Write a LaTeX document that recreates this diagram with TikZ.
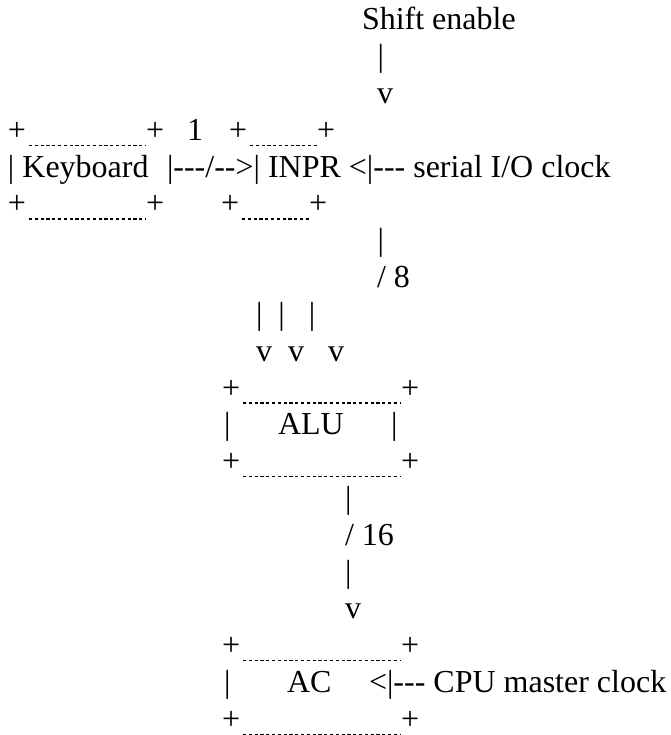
\documentclass[tikz,border=0pt]{standalone}
\usepackage{fontspec}
\setmainfont{Liberation Serif}[Ligatures=TeXOff]
\begin{document}
\begin{tikzpicture}[x=1pt,y=1pt,
  txt/.style={anchor=base west,inner sep=0pt,outer sep=0pt,font=\fontsize{32}{37}\selectfont},
  dotline/.style={line width=1.3pt,dash pattern=on 3.2pt off 2.6pt}]
\useasboundingbox (0,0) rectangle (670,-735);
% line 0-2
\node[txt] (shift) at (362,-30) {Shift enable};
\node[txt] (bar1) at (377.5,-66.8) {|};
\node[txt] (v1) at (377,-103.6) {v};
% line 3
\node[txt] (kbA) at (8,-140.4) {+};
\node[txt] (kbB) at (146,-140.4) {+};
\node[txt] (one) at (187,-140.4) {1};
\node[txt] (inA) at (229,-140.4) {+};
\node[txt] (inB) at (317,-140.4) {+};
\draw[dotline] ([xshift=3pt,yshift=-5pt]kbA.base east) -- ([yshift=-5pt]kbB.base west);
\draw[dotline] ([xshift=3pt,yshift=-5pt]inA.base east) -- ([yshift=-5pt]inB.base west);
% line 4
\node[txt] (kb) at (8,-177.2) {|~Keyboard};
\node[txt] (inpr) at (167,-177.2) {|---/-->|~INPR~<|---~serial~I/O~clock};
% line 5
\node[txt] (kbC) at (8,-214) {+};
\node[txt] (kbD) at (146,-214) {+};
\node[txt] (inC) at (221,-214) {+};
\node[txt] (inD) at (309,-214) {+};
\draw[dotline] ([xshift=3pt,yshift=-5pt]kbC.base east) -- ([yshift=-5pt]kbD.base west);
\draw[dotline] ([xshift=3pt,yshift=-5pt]inC.base east) -- ([yshift=-5pt]inD.base west);
% line 6-9
\node[txt] (bar2) at (377.5,-250.8) {|};
\node[txt] (w8) at (377,-287.6) {/~8};
\node[txt] (bars3) at (256,-324.4) {|~~|~~~|};
\node[txt] (vs3) at (256,-361.2) {v~~v~~~v};
% ALU box
\node[txt] (aluA) at (222,-398) {+};
\node[txt] (aluB) at (401,-398) {+};
\draw[dotline] ([xshift=3pt,yshift=-5pt]aluA.base east) -- ([yshift=-5pt]aluB.base west);
\node[txt] (aluL) at (224,-434.8) {|};
\node[txt] (alu) at (278,-434.8) {ALU};
\node[txt] (aluR) at (391,-434.8) {|};
\node[txt] (aluC) at (222,-471.6) {+};
\node[txt] (aluD) at (401,-471.6) {+};
\draw[dotline] ([xshift=3pt,yshift=-5pt]aluC.base east) -- ([yshift=-5pt]aluD.base west);
% line 13-16
\node[txt] (bar4) at (345,-508.4) {|};
\node[txt] (w16) at (345,-545.2) {/~16};
\node[txt] (bar5) at (345,-582) {|};
\node[txt] (v4) at (345,-618.8) {v};
% AC box
\node[txt] (acA) at (222,-655.6) {+};
\node[txt] (acB) at (401,-655.6) {+};
\draw[dotline] ([xshift=3pt,yshift=-5pt]acA.base east) -- ([yshift=-5pt]acB.base west);
\node[txt] (acL) at (224,-692.4) {|};
\node[txt] (ac) at (287,-692.4) {AC};
\node[txt] (cpu) at (369,-692.4) {<|---~CPU~master~clock};
\node[txt] (acC) at (222,-729.2) {+};
\node[txt] (acD) at (401,-729.2) {+};
\draw[dotline] ([xshift=3pt,yshift=-5pt]acC.base east) -- ([yshift=-5pt]acD.base west);
\end{tikzpicture}
\end{document}
